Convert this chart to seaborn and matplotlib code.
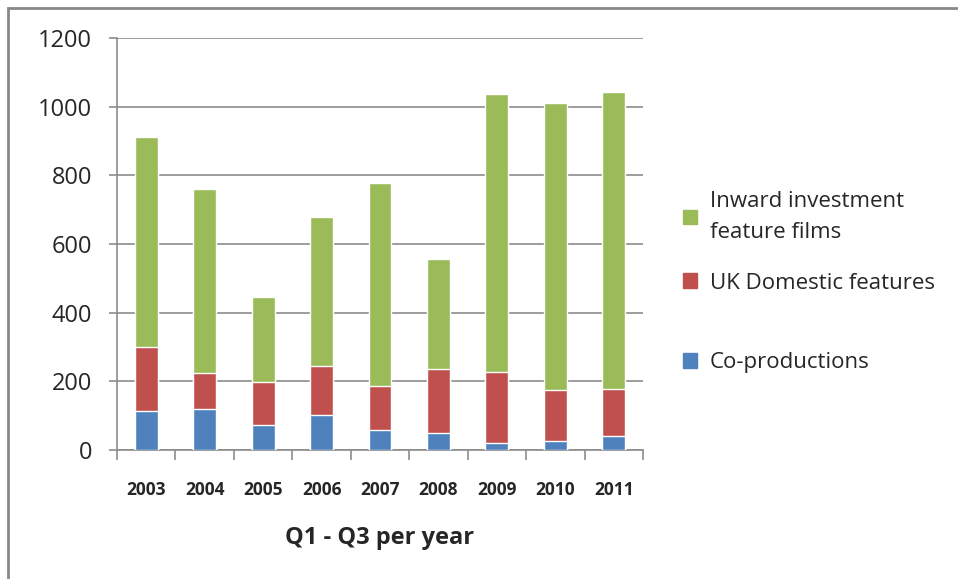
import numpy as np
import pandas as pd
import matplotlib
matplotlib.use('Agg')
import matplotlib.pyplot as plt
import seaborn as sns
from matplotlib.patches import Patch, Rectangle

years = ['2003', '2004', '2005', '2006', '2007', '2008', '2009', '2010', '2011']
coprod = [115, 119, 74, 103, 59, 49, 20, 26, 41]
uk_dom = [186, 105, 123, 143, 127, 186, 207, 149, 138]
inward = [610, 537, 250, 432, 593, 321, 811, 837, 863]

green = '#9BBB59'
red = '#C0504D'
blue = '#4F81BD'

sns.set_style('white')
plt.rcParams['font.family'] = ['Open Sans', 'DejaVu Sans']

df = pd.DataFrame({'year': years, 'co': coprod, 'uk': uk_dom, 'inward': inward})
df['uk_top'] = df['co'] + df['uk']
df['total'] = df['uk_top'] + df['inward']

fig = plt.figure(figsize=(9.58, 5.79), dpi=100)
ax = fig.add_axes([117/958, 1-450/579, (643-117)/958, (450-38)/579])

# stacked by overdrawing cumulative heights
sns.barplot(data=df, x='year', y='total', color=green, width=0.39, saturation=1, ax=ax, zorder=3)
sns.barplot(data=df, x='year', y='uk_top', color=red, width=0.39, saturation=1, ax=ax, zorder=3)
sns.barplot(data=df, x='year', y='co', color=blue, width=0.39, saturation=1, ax=ax, zorder=3)

ax.set_ylim(0, 1200)
ax.set_xlim(-0.5, len(years) - 0.5)
ax.set_yticks(range(0, 1201, 200))
ax.yaxis.grid(True, color='#8c8c8c', linewidth=1.2, zorder=0)
ax.xaxis.grid(False)
for s in ['top', 'right']:
    ax.spines[s].set_visible(False)
for s in ['left', 'bottom']:
    ax.spines[s].set_color('#8c8c8c')
    ax.spines[s].set_linewidth(1.2)

ax.tick_params(axis='y', left=True, length=6, width=1.2, color='#8c8c8c', pad=12, labelsize=17)
ax.set_xticks(np.arange(-0.5, len(years), 1), minor=True)
ax.tick_params(axis='x', which='minor', bottom=True, length=7, width=1.2, color='#8c8c8c')
ax.tick_params(axis='x', which='major', bottom=False, length=0, pad=22, labelsize=12.5)
for t in ax.get_xticklabels():
    t.set_fontweight('bold')
ax.set_ylabel('')
ax.set_xlabel('Q1 - Q3 per year', fontsize=17, fontweight='bold', labelpad=20)

leg_kw = dict(loc='upper left', frameon=False, fontsize=16, handlelength=0.65, handleheight=0.65,
              handletextpad=0.55, labelspacing=1.35, borderaxespad=0, borderpad=0)
leg1 = fig.legend([Patch(color=green), Patch(color=red)],
                  ['Inward investment\nfeature films', 'UK Domestic features'],
                  bbox_to_anchor=(683/958, 1-191/579), **leg_kw)
for t in leg1.get_texts():
    t.set_linespacing(1.6)
leg2 = fig.legend([Patch(color=blue)], ['Co-productions'],
                  bbox_to_anchor=(683/958, 1-352/579), **leg_kw)

fig.patches.append(Rectangle((8/958, -0.1), 2, 1.1 - 8/579, transform=fig.transFigure,
                             fill=False, edgecolor='#888888', linewidth=2))

fig.savefig('out.png', dpi=100)
